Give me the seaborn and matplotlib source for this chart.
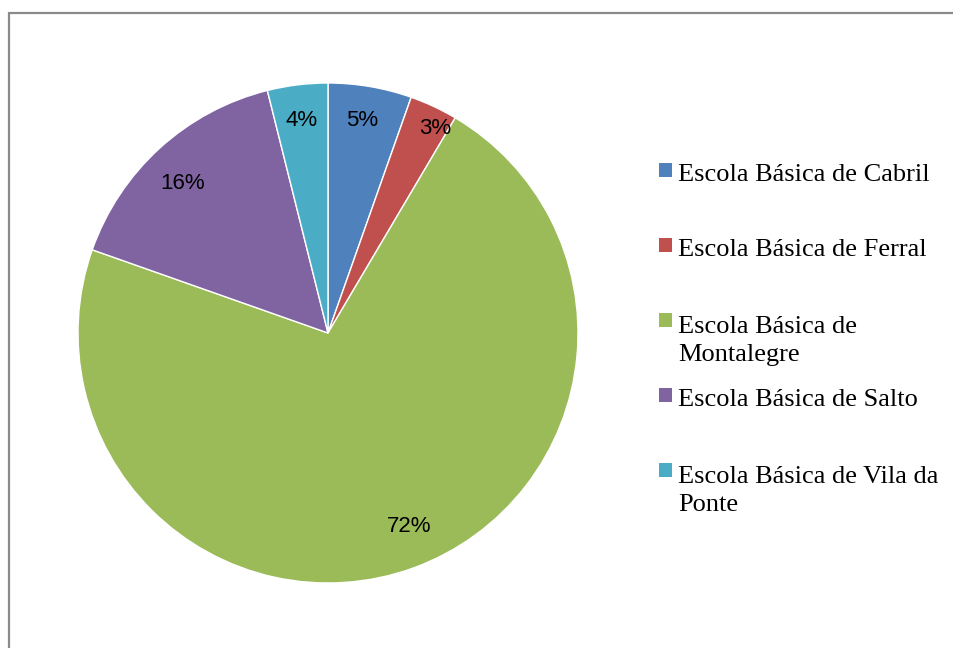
import matplotlib
matplotlib.use("Agg")
import matplotlib.pyplot as plt
import seaborn as sns
import numpy as np
from matplotlib.patches import Rectangle
from matplotlib.lines import Line2D

categories = ["Escola Básica de Cabril", "Escola Básica de Ferral",
              "Escola Básica de Montalegre", "Escola Básica de Salto",
              "Escola Básica de Vila da Ponte"]
legend_labels = ["Escola Básica de Cabril", "Escola Básica de Ferral",
                 "Escola Básica de\nMontalegre", "Escola Básica de Salto",
                 "Escola Básica de Vila da\nPonte"]
values = [5.4, 3.1, 71.9, 15.7, 3.9]
colors = ["#4F81BD", "#C0504D", "#9BBB59", "#8064A2", "#4BACC6"]

# label placement (layout only): radius fraction and clockwise angle nudge (deg)
label_radius = [0.868, 0.927, 0.832, 0.837, 0.864]
label_nudge = [-0.8, 2.5, -2.9, -1.7, 0.0]

sns.set_theme(style="white")
palette = sns.color_palette(colors)

W, H = 954, 648
fig = plt.figure(figsize=(W / 100, H / 100), dpi=100)
fig.patch.set_facecolor("white")

cx, cy, r = 328, 333, 250
ax = fig.add_axes([(cx - r) / W, (H - cy - r) / H, 2 * r / W, 2 * r / H])
wedges, _ = ax.pie(values, colors=palette, startangle=90, counterclock=False,
                   radius=1.0, wedgeprops=dict(edgecolor="white", linewidth=1.0))
ax.set_xlim(-1, 1)
ax.set_ylim(-1, 1)
ax.set_aspect("equal")
ax.axis("off")

for w, v, rr, nd in zip(wedges, values, label_radius, label_nudge):
    ang = np.deg2rad((w.theta1 + w.theta2) / 2 - nd)
    ax.text(rr * np.cos(ang), rr * np.sin(ang) - 0.006, f"{v:.0f}%",
            ha="center", va="center", fontsize=16,
            family="Liberation Sans", color="black")

# legend drawn at figure level
for i, (lab, col) in enumerate(zip(legend_labels, palette)):
    base_y = 181 + 75 * i
    n = lab.count("\n")
    fig.patches.append(Rectangle((659 / W, 1 - (base_y - 4) / H), 13.5 / W, 14 / H,
                                 transform=fig.transFigure, facecolor=col,
                                 edgecolor="none", figure=fig))
    fig.text(678 / W, 1 - (base_y + 30 * n) / H, lab, ha="left", va="baseline",
             fontsize=19, family="Liberation Serif", color="black",
             linespacing=1.36)

# chart border (top and left lines)
fig.add_artist(Line2D([9.5 / W, 1.0], [1 - 12.5 / H, 1 - 12.5 / H],
                      transform=fig.transFigure, color="#8a8a8a", lw=1.6))
fig.add_artist(Line2D([9.5 / W, 9.5 / W], [0, 1 - 12.5 / H],
                      transform=fig.transFigure, color="#8a8a8a", lw=1.6))

fig.savefig("out.png", dpi=100, facecolor="white")
